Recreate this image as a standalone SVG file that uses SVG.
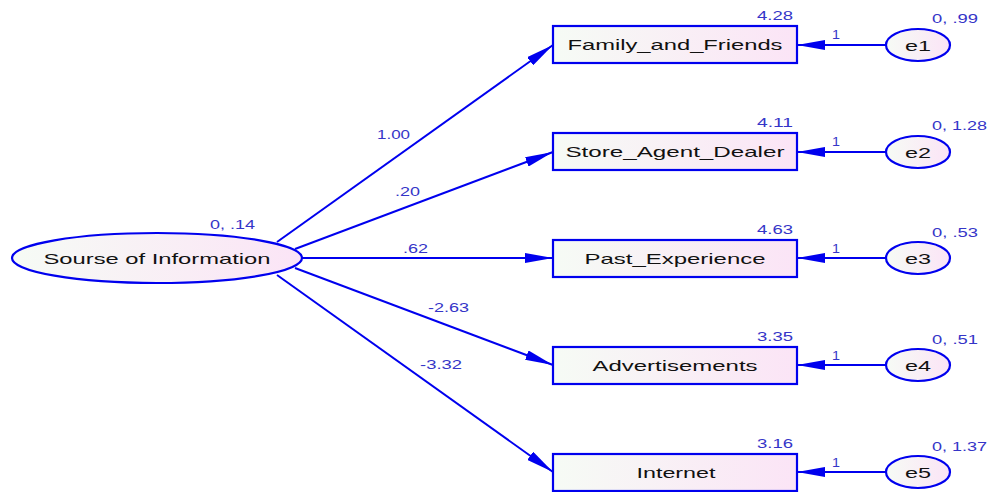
<svg xmlns="http://www.w3.org/2000/svg" width="988" height="492" viewBox="0 0 988 492">
<defs>
<linearGradient id="g" x1="0" y1="0" x2="1" y2="0">
<stop offset="0" stop-color="#f6fbf5"/>
<stop offset="1" stop-color="#fbe4f6"/>
</linearGradient>
<marker id="arr" markerUnits="userSpaceOnUse" markerWidth="28" markerHeight="10" refX="28" refY="5" orient="auto">
<path d="M0,0 L28,5 L0,10 z" fill="#0000ee"/>
</marker>
<style>
.box{fill:url(#g);stroke:#0000ee;stroke-width:2.2}
.ov{fill:url(#g);stroke:#0000ee;stroke-width:2.2}
.t{font-family:"Liberation Sans",Arial,sans-serif;font-size:15px;fill:#111;text-anchor:middle}
.b{font-family:"Liberation Sans",Arial,sans-serif;font-size:12px;fill:#3535c8}
.one{font-size:13px}
.c{stroke:#0000ee;stroke-width:2;fill:none;marker-end:url(#arr)}
</style>
</defs>
<rect width="988" height="492" fill="#ffffff"/>

<g id="connectors">
<line class="c" x1="277" y1="242" x2="553" y2="45"/>
<line class="c" x1="295" y1="249" x2="553" y2="152"/>
<line class="c" x1="302" y1="258" x2="553" y2="258"/>
<line class="c" x1="295" y1="268" x2="553" y2="365"/>
<line class="c" x1="277" y1="275" x2="553" y2="472"/>
<line class="c" x1="886" y1="45" x2="797" y2="45"/>
<line class="c" x1="886" y1="152" x2="797" y2="152"/>
<line class="c" x1="886" y1="258" x2="797" y2="258"/>
<line class="c" x1="886" y1="365" x2="797" y2="365"/>
<line class="c" x1="886" y1="472" x2="797" y2="472"/>
<text class="b" x="377" y="139" textLength="33" lengthAdjust="spacingAndGlyphs">1.00</text>
<text class="b" x="395" y="196" textLength="25" lengthAdjust="spacingAndGlyphs">.20</text>
<text class="b" x="403" y="253" textLength="25" lengthAdjust="spacingAndGlyphs">.62</text>
<text class="b" x="428" y="312" textLength="41" lengthAdjust="spacingAndGlyphs">-2.63</text>
<text class="b" x="420" y="369" textLength="42" lengthAdjust="spacingAndGlyphs">-3.32</text>
<text class="b one" x="832" y="39" textLength="8" lengthAdjust="spacingAndGlyphs">1</text>
<text class="b one" x="832" y="146" textLength="8" lengthAdjust="spacingAndGlyphs">1</text>
<text class="b one" x="832" y="253" textLength="8" lengthAdjust="spacingAndGlyphs">1</text>
<text class="b one" x="832" y="360" textLength="8" lengthAdjust="spacingAndGlyphs">1</text>
<text class="b one" x="832" y="467" textLength="8" lengthAdjust="spacingAndGlyphs">1</text>
</g>

<g id="source">
<ellipse class="ov" cx="157" cy="258" rx="145" ry="25"/>
<text class="t" x="157" y="264" textLength="227" lengthAdjust="spacingAndGlyphs">Sourse of Information</text>
<text class="b" x="210" y="229" textLength="45" lengthAdjust="spacingAndGlyphs">0, .14</text>
</g>

<g id="family">
<rect class="box" x="553" y="26" width="244" height="37"/>
<text class="t" x="675" y="50" textLength="215" lengthAdjust="spacingAndGlyphs">Family_and_Friends</text>
<text class="b" x="757" y="20" textLength="36" lengthAdjust="spacingAndGlyphs">4.28</text>
</g>
<g id="store">
<rect class="box" x="553" y="133" width="244" height="37"/>
<text class="t" x="675" y="157" textLength="219" lengthAdjust="spacingAndGlyphs">Store_Agent_Dealer</text>
<text class="b" x="757" y="127" textLength="36" lengthAdjust="spacingAndGlyphs">4.11</text>
</g>
<g id="past">
<rect class="box" x="553" y="240" width="244" height="37"/>
<text class="t" x="675" y="264" textLength="181" lengthAdjust="spacingAndGlyphs">Past_Experience</text>
<text class="b" x="757" y="234" textLength="36" lengthAdjust="spacingAndGlyphs">4.63</text>
</g>
<g id="ads">
<rect class="box" x="553" y="347" width="244" height="37"/>
<text class="t" x="675" y="371" textLength="165" lengthAdjust="spacingAndGlyphs">Advertisements</text>
<text class="b" x="757" y="341" textLength="36" lengthAdjust="spacingAndGlyphs">3.35</text>
</g>
<g id="internet">
<rect class="box" x="553" y="454" width="244" height="37"/>
<text class="t" x="676" y="478" textLength="79" lengthAdjust="spacingAndGlyphs">Internet</text>
<text class="b" x="757" y="448" textLength="36" lengthAdjust="spacingAndGlyphs">3.16</text>
</g>

<g id="e1">
<ellipse class="ov" cx="918" cy="45" rx="32" ry="16"/>
<text class="t" x="918" y="51" textLength="26" lengthAdjust="spacingAndGlyphs">e1</text>
<text class="b" x="932" y="23" textLength="46" lengthAdjust="spacingAndGlyphs">0, .99</text>
</g>
<g id="e2">
<ellipse class="ov" cx="918" cy="152" rx="32" ry="16"/>
<text class="t" x="918" y="158" textLength="26" lengthAdjust="spacingAndGlyphs">e2</text>
<text class="b" x="932" y="130" textLength="55" lengthAdjust="spacingAndGlyphs">0, 1.28</text>
</g>
<g id="e3">
<ellipse class="ov" cx="918" cy="258" rx="32" ry="16"/>
<text class="t" x="918" y="264" textLength="26" lengthAdjust="spacingAndGlyphs">e3</text>
<text class="b" x="932" y="237" textLength="46" lengthAdjust="spacingAndGlyphs">0, .53</text>
</g>
<g id="e4">
<ellipse class="ov" cx="918" cy="365" rx="32" ry="16"/>
<text class="t" x="918" y="371" textLength="26" lengthAdjust="spacingAndGlyphs">e4</text>
<text class="b" x="932" y="344" textLength="46" lengthAdjust="spacingAndGlyphs">0, .51</text>
</g>
<g id="e5">
<ellipse class="ov" cx="918" cy="472" rx="32" ry="16"/>
<text class="t" x="918" y="478" textLength="26" lengthAdjust="spacingAndGlyphs">e5</text>
<text class="b" x="932" y="451" textLength="55" lengthAdjust="spacingAndGlyphs">0, 1.37</text>
</g>
</svg>
